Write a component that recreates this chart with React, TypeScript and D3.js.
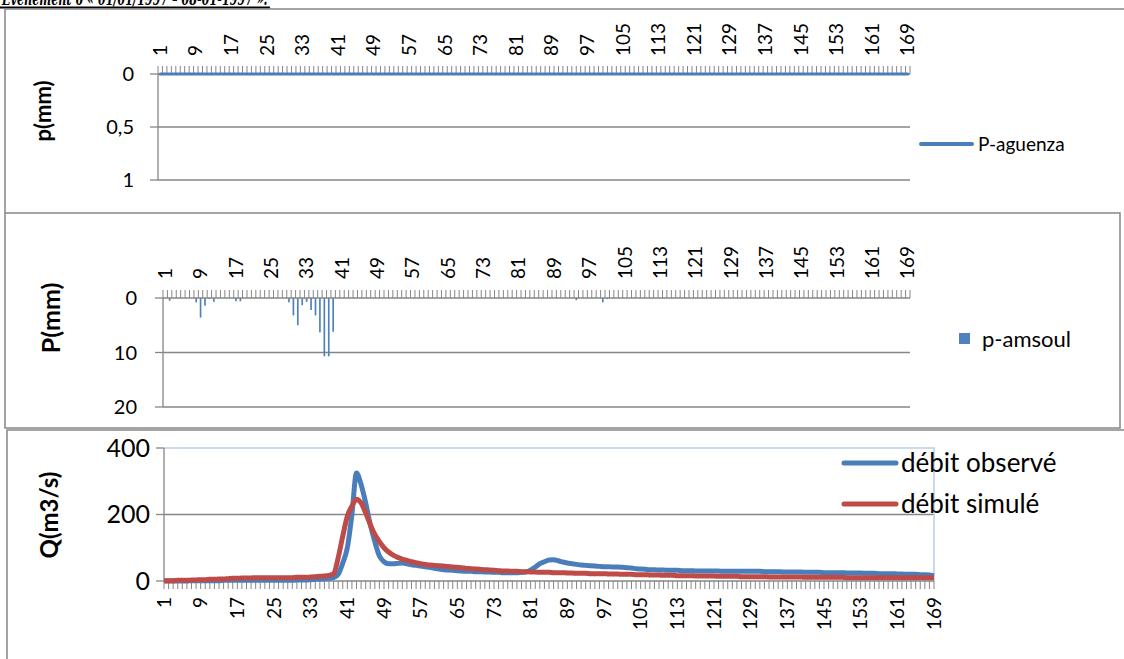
import React from "react";
import * as d3 from "d3";

// Données (pas de temps horaire 1..169)
const categories = d3.range(1, 170);
const tickLabels = categories.filter((c) => (c - 1) % 8 === 0);

const pAguenza = [
  0, 0, 0, 0, 0, 0, 0, 0, 0, 0,
  0, 0, 0, 0, 0, 0, 0, 0, 0, 0,
  0, 0, 0, 0, 0, 0, 0, 0, 0, 0,
  0, 0, 0, 0, 0, 0, 0, 0, 0, 0,
  0, 0, 0, 0, 0, 0, 0, 0, 0, 0,
  0, 0, 0, 0, 0, 0, 0, 0, 0, 0,
  0, 0, 0, 0, 0, 0, 0, 0, 0, 0,
  0, 0, 0, 0, 0, 0, 0, 0, 0, 0,
  0, 0, 0, 0, 0, 0, 0, 0, 0, 0,
  0, 0, 0, 0, 0, 0, 0, 0, 0, 0,
  0, 0, 0, 0, 0, 0, 0, 0, 0, 0,
  0, 0, 0, 0, 0, 0, 0, 0, 0, 0,
  0, 0, 0, 0, 0, 0, 0, 0, 0, 0,
  0, 0, 0, 0, 0, 0, 0, 0, 0, 0,
  0, 0, 0, 0, 0, 0, 0, 0, 0, 0,
  0, 0, 0, 0, 0, 0, 0, 0, 0, 0,
  0, 0, 0, 0, 0, 0, 0, 0, 0,
];

const pAmsoul = [
  0, 0.5, 0, 0, 0, 0, 0, 0.8, 3.6, 1.4,
  0.2, 0.7, 0, 0, 0, 0, 0.6, 0.6, 0, 0,
  0, 0, 0, 0, 0, 0, 0, 0, 0.8, 3.2,
  5.0, 1.3, 0.7, 2.2, 3.2, 6.3, 10.7, 10.7, 6.2, 0,
  0, 0, 0, 0, 0, 0, 0, 0, 0, 0,
  0, 0, 0, 0, 0, 0, 0, 0, 0, 0,
  0, 0, 0, 0, 0, 0, 0, 0, 0, 0,
  0, 0, 0, 0, 0, 0, 0, 0, 0, 0,
  0, 0, 0, 0, 0, 0, 0, 0, 0, 0,
  0, 0, 0, 0.4, 0, 0, 0, 0, 0, 0.8,
  0.2, 0, 0, 0, 0, 0, 0, 0, 0, 0,
  0, 0, 0, 0, 0, 0, 0, 0, 0, 0,
  0, 0, 0, 0, 0, 0, 0, 0, 0, 0,
  0, 0, 0, 0, 0, 0, 0, 0, 0, 0,
  0, 0, 0, 0, 0, 0, 0, 0, 0, 0,
  0, 0, 0, 0, 0, 0, 0, 0, 0, 0,
  0, 0, 0, 0, 0, 0, 0, 0, 0,
];

const debitObserve = [
  0, 0, 0, 0, 0, 0, 1, 1, 1, 1,
  1, 1, 1, 2, 2, 2, 2, 2, 2, 2,
  2, 2, 2, 2, 2, 2, 2, 2, 2, 3,
  3, 3, 4, 5, 6, 7, 8, 10, 20, 54,
  100, 200, 325, 290, 235, 170, 118, 75, 58, 52,
  52, 53, 54, 52, 49, 47, 45, 43, 41, 38,
  36, 34, 33, 32, 31, 30, 29, 29, 28, 28,
  27, 27, 26, 26, 25, 25, 25, 25, 26, 27,
  33, 42, 52, 58, 63, 64, 61, 57, 54, 52,
  50, 48, 47, 46, 45, 44, 43, 43, 42, 42,
  41, 40, 39, 37, 36, 35, 34, 34, 33, 33,
  32, 32, 32, 31, 31, 31, 30, 30, 30, 30,
  30, 30, 29, 29, 29, 29, 29, 29, 29, 29,
  29, 28, 28, 28, 28, 27, 27, 27, 27, 27,
  26, 26, 26, 26, 25, 25, 25, 25, 25, 24,
  24, 24, 24, 23, 23, 23, 22, 22, 22, 22,
  21, 21, 20, 20, 20, 19, 19, 18, 16,
];

const debitSimule = [
  1, 1, 1, 2, 2, 2, 3, 3, 4, 4,
  5, 5, 6, 6, 7, 8, 8, 9, 9, 9,
  10, 10, 10, 10, 10, 10, 10, 10, 10, 11,
  11, 11, 12, 13, 14, 15, 17, 22, 70, 135,
  195, 225, 246, 235, 205, 170, 140, 118, 100, 87,
  78, 71, 66, 62, 58, 55, 52, 50, 48, 47,
  46, 45, 44, 42, 41, 40, 38, 37, 36, 35,
  34, 33, 32, 31, 30, 30, 29, 29, 28, 28,
  27, 27, 26, 26, 26, 25, 25, 25, 24, 24,
  23, 23, 23, 22, 22, 22, 22, 21, 21, 21,
  20, 20, 20, 19, 19, 19, 18, 18, 18, 17,
  17, 17, 16, 16, 16, 16, 15, 15, 15, 15,
  15, 14, 14, 14, 14, 14, 13, 13, 13, 13,
  13, 13, 12, 12, 12, 12, 12, 12, 12, 12,
  11, 11, 11, 11, 11, 11, 11, 11, 11, 10,
  10, 10, 10, 10, 10, 10, 10, 10, 10, 10,
  10, 10, 10, 10, 10, 10, 10, 10, 10,
];

const yTicksP1 = [0, 0.5, 1];
const yTicksP2 = [0, 10, 20];
const yTicksQ = [0, 200, 400];

const FONT = "Lato, 'Open Sans', sans-serif";
const BLUE = "#4A7EBB";
const RED = "#BE4B48";
const GRID = "#868686";

function bandTicks(x: d3.ScaleBand<number>) {
  const [r0, r1] = x.range();
  const step = x.step();
  return d3.range(0, categories.length + 1).map((i) => Math.min(r0 + i * step, r1));
}

export default function App() {
  // ---- panneau 1 : P-aguenza
  const x1 = d3.scaleBand<number>().domain(categories).range([158, 910]).padding(0);
  const y1 = d3.scaleLinear().domain([0, 1]).range([74, 180]);
  const line1 = d3
    .line<number>()
    .x((_, i) => (x1(categories[i]) as number) + x1.bandwidth() / 2)
    .y((d) => y1(d));

  // ---- panneau 2 : p-amsoul
  const x2 = d3.scaleBand<number>().domain(categories).range([163, 910]).padding(0);
  const y2 = d3.scaleLinear().domain([0, 20]).range([298, 407]);
  const barW = x2.bandwidth() * 0.38;

  // ---- panneau 3 : débits
  const x3 = d3.scalePoint<number>().domain(categories).range([164, 934]);
  const y3 = d3.scaleLinear().domain([0, 400]).range([581, 448]);
  const lineQ = d3
    .line<number>()
    .x((_, i) => x3(categories[i]) as number)
    .y((d) => y3(d))
    .curve(d3.curveMonotoneX);

  const t1 = bandTicks(x1);
  const t2 = bandTicks(x2);

  return (
    <svg
      width={1124}
      height={659}
      style={{ position: "absolute", left: 0, top: 0, background: "#fff" }}
      fontFamily={FONT}
    >
      {/* titre coupé en haut */}
      <text
        x={2}
        y={5}
        fontFamily="'DejaVu Serif', serif"
        fontStyle="italic"
        fontWeight="bold"
        fontSize={19}
        textLength={266}
        lengthAdjust="spacingAndGlyphs"
        fill="#000"
      >
        Evènement 6 « 01/01/1997 – 08-01-1997 »:
      </text>
      <line x1={0} x2={270} y1={7.5} y2={7.5} stroke="#000" strokeWidth={2} />

      {/* cadres */}
      <path d="M5,213 L5,9 L1124,9" fill="none" stroke={GRID} strokeWidth={1.5} />
      <path d="M5,213 L5,428 L1120,428 L1120,213 Z" fill="none" stroke={GRID} strokeWidth={1.5} />
      <path d="M7,659 L7,430 L1124,430" fill="none" stroke={GRID} strokeWidth={1.5} />

      {/* ===== panneau 1 ===== */}
      {yTicksP1.map((v) => (
        <g key={"g1" + v}>
          {v > 0 && <line x1={158} x2={910} y1={y1(v)} y2={y1(v)} stroke={GRID} strokeWidth={1.3} />}
          <line x1={150} x2={158} y1={y1(v)} y2={y1(v)} stroke={GRID} strokeWidth={1.3} />
          <text x={134} y={y1(v)} dy="0.35em" textAnchor="end" fontSize={20}>
            {String(v).replace(".", ",")}
          </text>
        </g>
      ))}
      <line x1={158} x2={158} y1={74} y2={180} stroke={GRID} strokeWidth={1.3} />
      <line x1={158} x2={910} y1={74} y2={74} stroke={GRID} strokeWidth={1.3} />
      {t1.map((tx, i) => (
        <line key={"tk1" + i} x1={tx} x2={tx} y1={74} y2={66} stroke={GRID} strokeWidth={1} />
      ))}
      {tickLabels.map((c) => (
        <text
          key={"l1" + c}
          transform={`translate(${(x1(c) as number) + x1.bandwidth() / 2},56) rotate(-90)`}
          dy="0.35em"
          textAnchor="start"
          fontSize={19}
        >
          {c}
        </text>
      ))}
      <path d={line1(pAguenza) as string} fill="none" stroke={BLUE} strokeWidth={3} strokeLinecap="round" />
      <text transform="translate(43,111) rotate(-90)" textAnchor="middle" dy="0.35em" fontSize={22} fontWeight="bold">
        p(mm)
      </text>
      <line x1={921} x2={972} y1={144} y2={144} stroke={BLUE} strokeWidth={4} strokeLinecap="round" />
      <text x={978} y={144} dy="0.35em" fontSize={19}>
        P-aguenza
      </text>

      {/* ===== panneau 2 ===== */}
      {yTicksP2.map((v) => (
        <g key={"g2" + v}>
          {v > 0 && <line x1={163} x2={910} y1={y2(v)} y2={y2(v)} stroke={GRID} strokeWidth={1.3} />}
          <line x1={155} x2={163} y1={y2(v)} y2={y2(v)} stroke={GRID} strokeWidth={1.3} />
          <text x={137} y={y2(v)} dy="0.35em" textAnchor="end" fontSize={20}>
            {v}
          </text>
        </g>
      ))}
      <line x1={163} x2={163} y1={298} y2={407} stroke={GRID} strokeWidth={1.3} />
      {pAmsoul.map((v, i) =>
        v > 0 ? (
          <rect
            key={"b" + i}
            x={(x2(categories[i]) as number) + (x2.bandwidth() - barW) / 2}
            y={y2(0)}
            width={barW}
            height={y2(v) - y2(0)}
            fill="#4F81BD"
          />
        ) : null
      )}
      <line x1={163} x2={910} y1={298} y2={298} stroke={GRID} strokeWidth={1.3} />
      {t2.map((tx, i) => (
        <line key={"tk2" + i} x1={tx} x2={tx} y1={298} y2={290} stroke={GRID} strokeWidth={1} />
      ))}
      {tickLabels.map((c) => (
        <text
          key={"l2" + c}
          transform={`translate(${(x2(c) as number) + x2.bandwidth() / 2},279) rotate(-90)`}
          dy="0.35em"
          textAnchor="start"
          fontSize={19}
        >
          {c}
        </text>
      ))}
      <text transform="translate(51,318) rotate(-90)" textAnchor="middle" dy="0.35em" fontSize={25} fontWeight="bold">
        P(mm)
      </text>
      <rect x={959} y={333} width={11} height={11} fill="#4F81BD" />
      <text x={982} y={339} dy="0.35em" fontSize={22}>
        p-amsoul
      </text>

      {/* ===== panneau 3 ===== */}
      <line x1={164} x2={934} y1={y3(200)} y2={y3(200)} stroke={GRID} strokeWidth={1.3} />
      <path d={`M164,${y3(400)} L934,${y3(400)} L934,${y3(0)}`} fill="none" stroke="#B9CDE5" strokeWidth={1.5} />
      {yTicksQ.map((v) => (
        <g key={"g3" + v}>
          <line x1={156} x2={164} y1={y3(v)} y2={y3(v)} stroke={GRID} strokeWidth={1.3} />
          <text x={150} y={y3(v)} dy="0.35em" textAnchor="end" fontSize={25}>
            {v}
          </text>
        </g>
      ))}
      <line x1={164} x2={164} y1={448} y2={581} stroke={GRID} strokeWidth={1.3} />
      <line x1={164} x2={934} y1={581} y2={581} stroke={GRID} strokeWidth={1.3} />
      {categories.map((c) => (
        <line key={"tk3" + c} x1={x3(c)} x2={x3(c)} y1={581} y2={589} stroke={GRID} strokeWidth={1} />
      ))}
      <path d={lineQ(debitObserve) as string} fill="none" stroke={BLUE} strokeWidth={5} strokeLinejoin="round" />
      <path d={lineQ(debitSimule) as string} fill="none" stroke={RED} strokeWidth={5} strokeLinejoin="round" />
      {tickLabels.map((c) => (
        <text
          key={"l3" + c}
          transform={`translate(${x3(c)},597) rotate(-90)`}
          dy="0.35em"
          textAnchor="end"
          fontSize={19}
        >
          {c}
        </text>
      ))}
      <text transform="translate(50,515) rotate(-90)" textAnchor="middle" dy="0.35em" fontSize={24} fontWeight="bold">
        Q(m3/s)
      </text>
      <line x1={844} x2={896} y1={463} y2={463} stroke={BLUE} strokeWidth={5} strokeLinecap="round" />
      <text x={901} y={463} dy="0.35em" fontSize={26}>
        débit observé
      </text>
      <line x1={844} x2={896} y1={504} y2={504} stroke={RED} strokeWidth={5} strokeLinecap="round" />
      <text x={901} y={504} dy="0.35em" fontSize={26}>
        débit simulé
      </text>
    </svg>
  );
}
